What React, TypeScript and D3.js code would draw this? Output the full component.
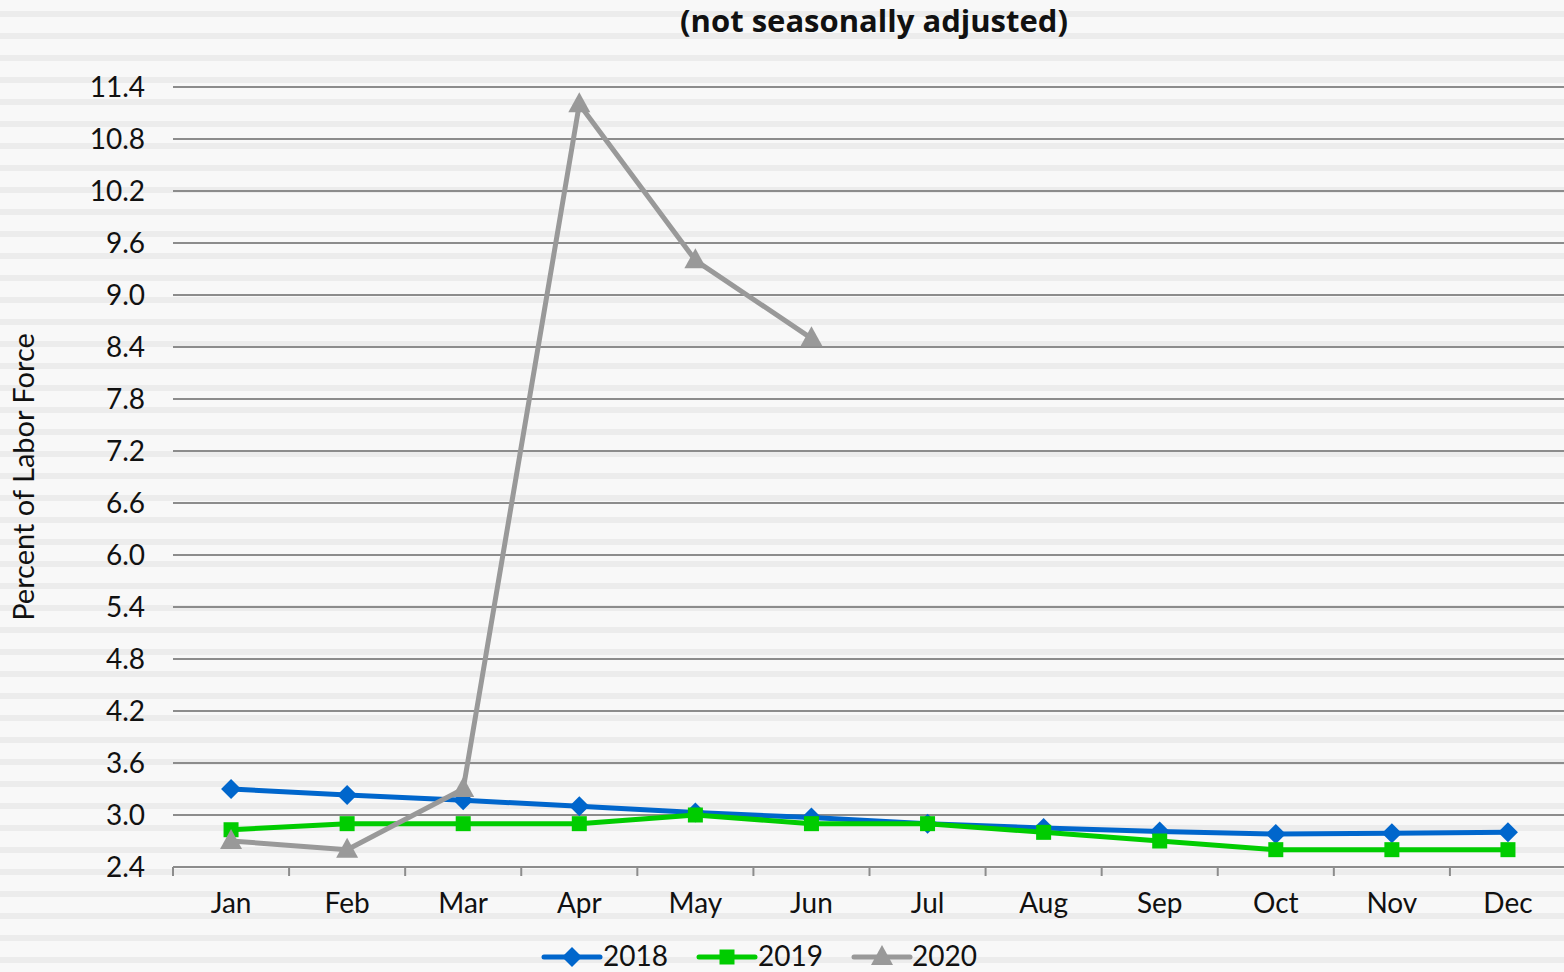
import React from "react";
import * as d3 from "d3";

const months = ["Jan", "Feb", "Mar", "Apr", "May", "Jun", "Jul", "Aug", "Sep", "Oct", "Nov", "Dec"];
const s2018 = [3.3, 3.23, 3.17, 3.1, 3.03, 2.97, 2.9, 2.85, 2.81, 2.78, 2.79, 2.8];
const s2019 = [2.83, 2.9, 2.9, 2.9, 3.0, 2.9, 2.9, 2.8, 2.7, 2.6, 2.6, 2.6];
const s2020 = [2.7, 2.6, 3.3, 11.2, 9.4, 8.5];
const yTicks = [2.4, 3.0, 3.6, 4.2, 4.8, 5.4, 6.0, 6.6, 7.2, 7.8, 8.4, 9.0, 9.6, 10.2, 10.8, 11.4];
const seriesNames = ["2018", "2019", "2020"];
const seriesColors = ["#0066cc", "#00cc00", "#999999"];

const W = 1564, H = 972;
const left = 173, right = 1566, top = 87, bottom = 867;
const axisFont = "Lato, 'DejaVu Sans', sans-serif";

function Marker({ kind, x, y, color }: { kind: number; x: number; y: number; color: string }) {
  if (kind === 0) {
    const r = 10;
    return <path d={`M${x},${y - r}L${x + r},${y}L${x},${y + r}L${x - r},${y}Z`} fill={color} />;
  }
  if (kind === 1) {
    const s = 15;
    return <rect x={x - s / 2} y={y - s / 2} width={s} height={s} fill={color} />;
  }
  const h = 20, w = 22;
  return <path d={`M${x},${y - h * 0.6}L${x + w / 2},${y + h * 0.4}L${x - w / 2},${y + h * 0.4}Z`} fill={color} />;
}

export default function App() {
  const x = d3.scaleBand<string>().domain(months).range([left, right]);
  const y = d3.scaleLinear().domain([2.4, 11.4]).range([bottom, top]);
  const cx = (m: string) => (x(m) as number) + x.bandwidth() / 2;
  const line = d3.line<number>().x((_, i) => cx(months[i])).y((v) => y(v));
  const series = [s2018, s2019, s2020];
  const stripes = d3.range(0, Math.ceil(H / 22));

  const legendItems = [
    { lx: 544, tx: 603 },
    { lx: 699, tx: 758 },
    { lx: 854, tx: 912 },
  ];

  return (
    <svg width={W} height={H} style={{ position: "absolute", left: 0, top: 0, display: "block" }}>
      <rect x={0} y={0} width={W} height={H} fill="#f8f8f8" />
      {stripes.map((k) => (
        <rect key={k} x={0} y={11 + 22 * k} width={W} height={6} fill="#ececec" />
      ))}
      <text x={874} y={32} textAnchor="middle" fontFamily="'Open Sans', 'Liberation Sans', sans-serif" fontWeight="bold" fontSize={31} fill="#111">
        (not seasonally adjusted)
      </text>
      {yTicks.slice(1).map((t) => (
        <line key={t} x1={left} x2={W} y1={y(t)} y2={y(t)} stroke="#8c8c8c" strokeWidth={2} />
      ))}
      <line x1={left} x2={W} y1={bottom} y2={bottom} stroke="#8c8c8c" strokeWidth={2} />
      {d3.range(0, 13).map((i) => {
        const xx = left + i * x.bandwidth();
        return <line key={i} x1={xx} x2={xx} y1={bottom} y2={bottom + 9} stroke="#8c8c8c" strokeWidth={2} />;
      })}
      {yTicks.map((t) => (
        <text key={t} x={145} y={y(t) + 10} textAnchor="end" fontFamily={axisFont} fontSize={28} fill="#111">
          {t.toFixed(1)}
        </text>
      ))}
      {months.map((m) => (
        <text key={m} x={cx(m)} y={913} textAnchor="middle" fontFamily={axisFont} fontSize={28} fill="#111">
          {m}
        </text>
      ))}
      <text transform={`translate(34,477) rotate(-90)`} textAnchor="middle" fontFamily={axisFont} fontSize={29} fill="#111">
        Percent of Labor Force
      </text>
      {series.map((s, k) => (
        <g key={k}>
          <path d={line(s) as string} fill="none" stroke={seriesColors[k]} strokeWidth={5} strokeLinejoin="round" />
          {s.map((v, i) => (
            <Marker key={i} kind={k} x={cx(months[i])} y={y(v)} color={seriesColors[k]} />
          ))}
        </g>
      ))}
      {seriesNames.map((n, k) => (
        <g key={n}>
          <line x1={legendItems[k].lx} x2={legendItems[k].lx + 56} y1={957} y2={957} stroke={seriesColors[k]} strokeWidth={5} strokeLinecap="round" />
          <Marker kind={k} x={legendItems[k].lx + 28} y={957} color={seriesColors[k]} />
          <text x={legendItems[k].tx} y={966} fontFamily={axisFont} fontSize={28} fill="#111">
            {n}
          </text>
        </g>
      ))}
    </svg>
  );
}
